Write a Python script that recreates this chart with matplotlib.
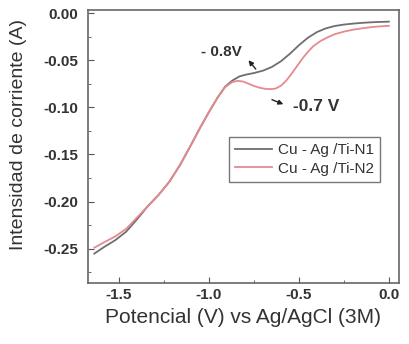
import matplotlib
matplotlib.use("Agg")
import matplotlib.pyplot as plt
from matplotlib.ticker import MultipleLocator, FormatStrFormatter

plt.rcParams['font.family'] = ['Liberation Sans', 'DejaVu Sans']
plt.rcParams['axes.unicode_minus'] = False

# Data
v_n1 = [-1.637, -1.58, -1.52, -1.46, -1.40, -1.34, -1.28, -1.22, -1.16, -1.10,
        -1.05, -1.00, -0.95, -0.91, -0.87, -0.83, -0.79, -0.75, -0.70, -0.65,
        -0.60, -0.55, -0.50, -0.45, -0.40, -0.35, -0.30, -0.25, -0.20, -0.15,
        -0.10, -0.05, 0.0]
i_n1 = [-0.2553, -0.248, -0.241, -0.232, -0.219, -0.205, -0.193, -0.179, -0.161, -0.140,
        -0.122, -0.105, -0.089, -0.078, -0.0715, -0.067, -0.065, -0.0635, -0.061, -0.057,
        -0.051, -0.043, -0.034, -0.026, -0.020, -0.0160, -0.0135, -0.0120, -0.0110, -0.0102,
        -0.0096, -0.0092, -0.0089]

v_n2 = [-1.637, -1.58, -1.52, -1.46, -1.40, -1.34, -1.28, -1.22, -1.16, -1.10,
        -1.05, -1.00, -0.95, -0.91, -0.87, -0.84, -0.81, -0.78, -0.75, -0.72,
        -0.69, -0.66, -0.63, -0.60, -0.57, -0.54, -0.51, -0.48, -0.45, -0.42,
        -0.38, -0.34, -0.30, -0.25, -0.20, -0.15, -0.10, -0.05, 0.0]
i_n2 = [-0.249, -0.243, -0.237, -0.229, -0.217, -0.205, -0.193, -0.179, -0.161, -0.140,
        -0.122, -0.105, -0.089, -0.0785, -0.0730, -0.0718, -0.0725, -0.0748, -0.0772, -0.0790,
        -0.0802, -0.0806, -0.0800, -0.0770, -0.0715, -0.0640, -0.0560, -0.0480, -0.0410, -0.0350,
        -0.0295, -0.0255, -0.0222, -0.0195, -0.0175, -0.0160, -0.0148, -0.0139, -0.0133]

labels = ["Cu - Ag /Ti-N1", "Cu - Ag /Ti-N2"]
colors = ["#6e6e6e", "#e58a8f"]

fig = plt.figure(figsize=(4.10, 3.44), dpi=100)
ax = fig.add_axes([0.2146, 0.176, 0.758, 0.795])

ax.plot(v_n1, i_n1, color=colors[0], lw=1.3, label=labels[0])
ax.plot(v_n2, i_n2, color=colors[1], lw=1.3, label=labels[1])

ax.set_xlim(-1.672, 0.055)
ax.set_ylim(-0.287, 0.0035)

ax.xaxis.set_major_locator(MultipleLocator(0.5))
ax.xaxis.set_minor_locator(MultipleLocator(0.25))
ax.yaxis.set_major_locator(MultipleLocator(0.05))
ax.yaxis.set_minor_locator(MultipleLocator(0.025))
ax.xaxis.set_major_formatter(FormatStrFormatter('%.1f'))
ax.yaxis.set_major_formatter(FormatStrFormatter('%.2f'))

ax.tick_params(which='both', direction='in', colors='#555555', labelcolor='#333333')
ax.tick_params(which='major', length=4, labelsize=11)
ax.tick_params(axis='y', which='major', pad=7)
ax.tick_params(which='minor', length=2)
for lbl in ax.get_xticklabels() + ax.get_yticklabels():
    lbl.set_fontweight('bold')
for s in ax.spines.values():
    s.set_color('#666666')
    s.set_linewidth(1.2)

ax.set_xlabel("Potencial (V) vs Ag/AgCl (3M)", fontsize=15, color='#333333', labelpad=4)
ax.set_ylabel("Intensidad de corriente (A)", fontsize=14, color='#333333', labelpad=2)
ax.yaxis.set_label_coords(-0.195, 0.545)

# annotations
ax.annotate('', xy=(-0.79, -0.0476), xytext=(-0.73, -0.0615),
            arrowprops=dict(arrowstyle='-|>', color='#222222', lw=1.0, mutation_scale=7))
ax.text(-0.931, -0.0409, "- 0.8V", fontsize=11, fontweight='bold', color='#333333',
        ha='center', va='center')
ax.annotate('', xy=(-0.572, -0.0977), xytext=(-0.664, -0.0907),
            arrowprops=dict(arrowstyle='-|>', color='#222222', lw=1.0, mutation_scale=7))
ax.text(-0.405, -0.0994, "-0.7 V", fontsize=12.5, fontweight='bold', color='#333333',
        ha='center', va='center')

leg = ax.legend(loc='upper left', bbox_to_anchor=(0.453, 0.535), borderaxespad=0,
                fontsize=11, frameon=True, fancybox=False, edgecolor='#555555',
                handlelength=2.4, borderpad=0.4, labelspacing=0.3, handletextpad=0.4)
leg.get_frame().set_linewidth(1.0)
for t in leg.get_texts():
    t.set_color('#333333')

fig.savefig("out.png", dpi=100)
